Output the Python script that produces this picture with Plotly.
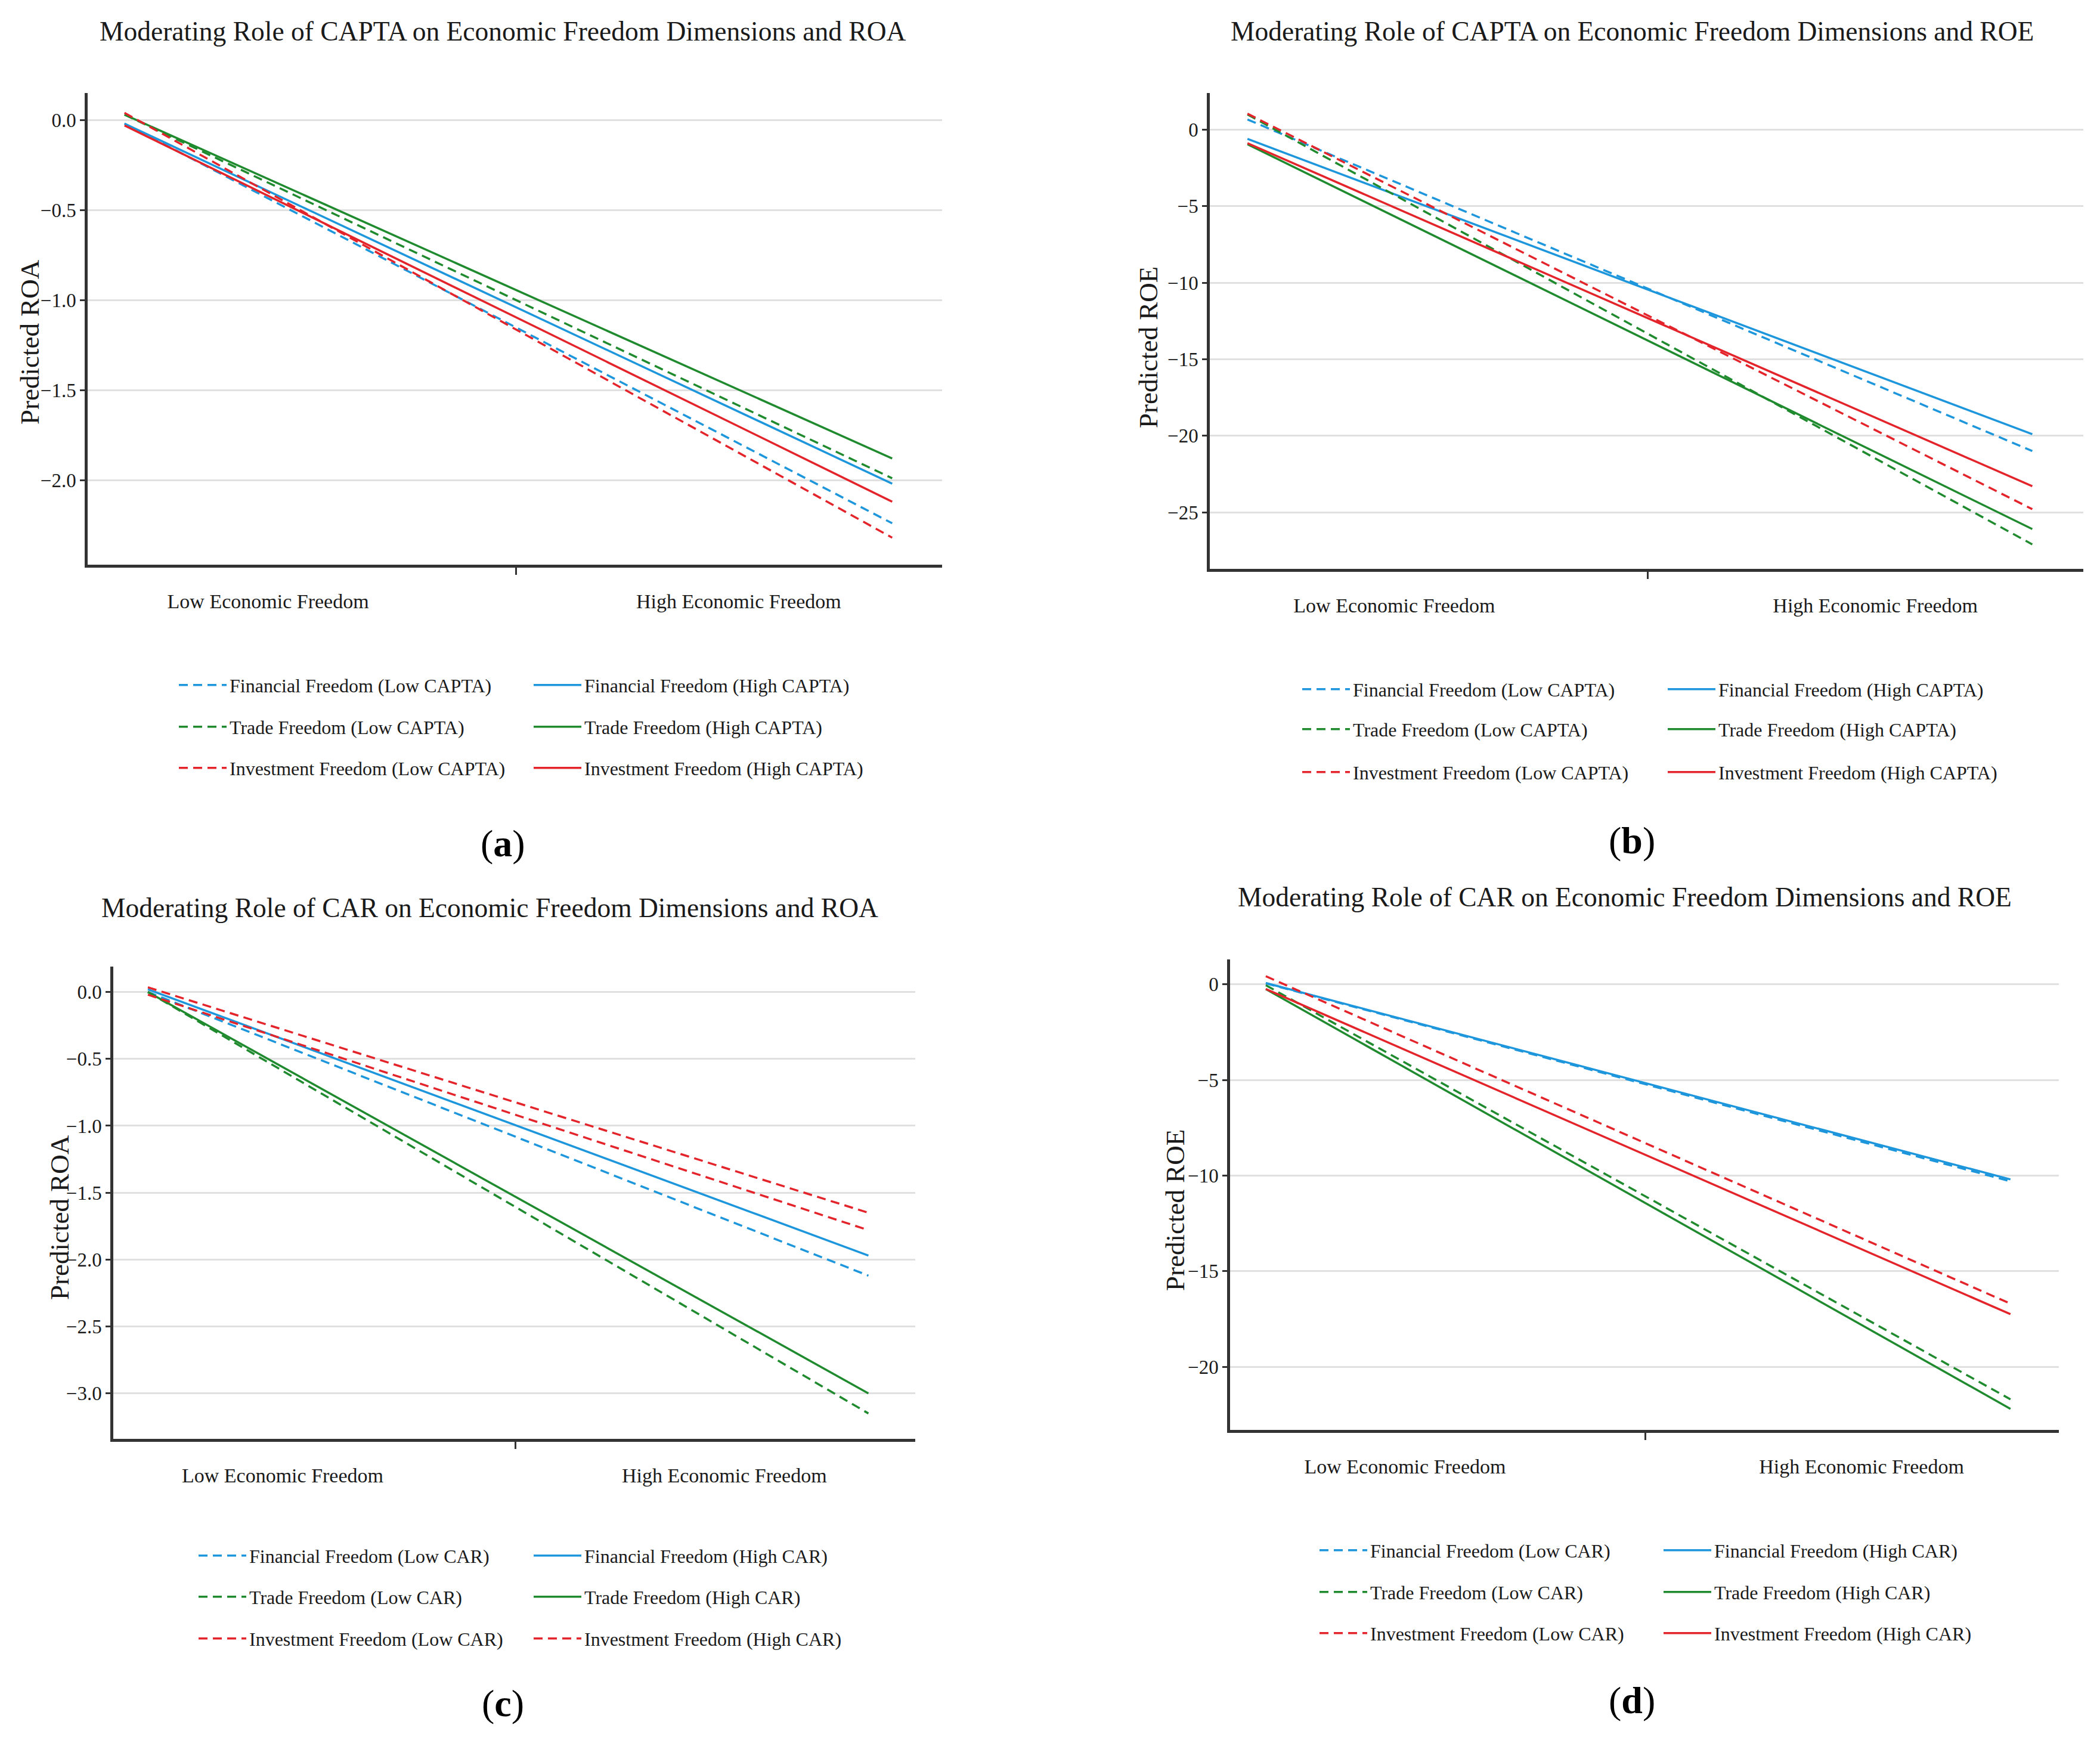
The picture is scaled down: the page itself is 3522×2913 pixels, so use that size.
import plotly.graph_objects as go

W, H = 3522, 2913
FONT = "Liberation Serif, Times New Roman, serif"
TXT = "#1a1a1a"
AXC = "#333333"
DASH = "15px,9px"

# ---------------- data ----------------
x_levels = [0, 1]  # low / high economic freedom
x_tick_labels = ["Low Economic Freedom", "High Economic Freedom"]
dimensions = ["Financial Freedom", "Trade Freedom", "Investment Freedom"]
colors = ["#1E96DC", "#1F8A2E", "#E3242B"]

# (a) CAPTA -> ROA
a_fin_low = [-0.02, -2.24]
a_fin_high = [-0.02, -2.02]
a_trade_low = [0.03, -1.99]
a_trade_high = [0.03, -1.88]
a_inv_low = [0.04, -2.32]
a_inv_high = [-0.03, -2.12]

# (b) CAPTA -> ROE
b_fin_low = [0.67, -21.0]
b_fin_high = [-0.6, -19.9]
b_trade_low = [1.0, -27.1]
b_trade_high = [-0.95, -26.1]
b_inv_low = [1.05, -24.8]
b_inv_high = [-0.88, -23.3]

# (c) CAR -> ROA
c_fin_low = [0.0, -2.12]
c_fin_high = [0.02, -1.97]
c_trade_low = [0.0, -3.15]
c_trade_high = [0.0, -3.0]
c_inv_low = [0.035, -1.65]
c_inv_high = [-0.02, -1.78]

# (d) CAR -> ROE
d_fin_low = [0.05, -10.3]
d_fin_high = [0.07, -10.2]
d_trade_low = [-0.05, -21.7]
d_trade_high = [-0.25, -22.2]
d_inv_low = [0.42, -16.7]
d_inv_high = [-0.25, -17.25]

a_ticks = [0.0, -0.5, -1.0, -1.5, -2.0]
b_ticks = [0, -5, -10, -15, -20, -25]
c_ticks = [0.0, -0.5, -1.0, -1.5, -2.0, -2.5, -3.0]
d_ticks = [0, -5, -10, -15, -20]

# ---------------- layout config ----------------
panels = [
    dict(tag="a", moder="CAPTA", outcome="ROA",
         series=[(a_fin_low, a_fin_high), (a_trade_low, a_trade_high), (a_inv_low, a_inv_high)],
         ticks=a_ticks, fmt=".1f", yrange=[-2.47, 0.15],
         dx=(139, 1572), dy=(148, 939), title=(835, 45), ytitle=(42, 566),
         leg_rows=[1141, 1211, 1280], leg_x=292, col_gap=595, label=(835, 1406)),
    dict(tag="b", moder="CAPTA", outcome="ROE",
         series=[(b_fin_low, b_fin_high), (b_trade_low, b_trade_high), (b_inv_low, b_inv_high)],
         ticks=b_ticks, fmt="d", yrange=[-28.7, 2.4],
         dx=(2021, 3486), dy=(148, 946), title=(2729, 45), ytitle=(1918, 575),
         leg_rows=[1148, 1215, 1287], leg_x=2176, col_gap=613, label=(2729, 1401)),
    dict(tag="c", moder="CAR", outcome="ROA",
         series=[(c_fin_low, c_fin_high), (c_trade_low, c_trade_high), (c_inv_low, c_inv_high)],
         ticks=c_ticks, fmt=".1f", yrange=[-3.34, 0.19],
         dx=(182, 1527), dy=(1613, 2405), title=(813, 1514), ytitle=(92, 2034),
         leg_rows=[2601, 2670, 2740], leg_x=325, col_gap=562, label=(835, 2848)),
    dict(tag="d", moder="CAR", outcome="ROE",
         series=[(d_fin_low, d_fin_high), (d_trade_low, d_trade_high), (d_inv_low, d_inv_high)],
         ticks=d_ticks, fmt="d", yrange=[-23.3, 1.3],
         dx=(2055, 3445), dy=(1601, 2390), title=(2717, 1496), ytitle=(1963, 2022),
         leg_rows=[2592, 2662, 2731], leg_x=2205, col_gap=577, label=(2729, 2843)),
]

# dash style of the investment-freedom "high" line (panel c draws it dashed)
inv_high_dash = {"a": "solid", "b": "solid", "c": DASH, "d": "solid"}

fig = go.Figure()
annotations = []
layout = dict(
    width=W, height=H, margin=dict(l=0, r=0, t=0, b=0),
    paper_bgcolor="white", plot_bgcolor="white",
    font=dict(family=FONT, color=TXT, size=30),
    showlegend=True,
)

ITEMW = 80
leg_idx = 0
for pi, p in enumerate(panels):
    n = "" if pi == 0 else str(pi + 1)
    xa, ya = "x" + n, "y" + n
    x0, x1 = p["dx"]
    y0, y1 = p["dy"]
    layout["xaxis" + n] = dict(
        domain=[x0 / W, x1 / W], anchor=ya, range=[-0.048, 1.065],
        showline=True, linecolor=AXC, linewidth=4.5, showgrid=False, zeroline=False,
        tickmode="array", tickvals=[0.187, 0.80], ticktext=x_tick_labels, ticks="",
        ticklabelstandoff=27,
        tickfont=dict(family=FONT, size=34, color=TXT),
        minor=dict(tickmode="array", tickvals=[0.51], ticks="outside", ticklen=12,
                   tickwidth=3, tickcolor=AXC, showgrid=False),
    )
    layout["yaxis" + n] = dict(
        domain=[1 - y1 / H, 1 - y0 / H], anchor=xa, range=p["yrange"],
        showline=True, linecolor=AXC, linewidth=4.5, zeroline=False,
        showgrid=True, gridcolor="#e0e0e0", gridwidth=2.5,
        tickmode="array", tickvals=p["ticks"],
        ticktext=[format(v, p["fmt"]).replace("-", "\u2212") for v in p["ticks"]],
        ticks="outside", ticklen=8, tickwidth=3, tickcolor=AXC,
        tickfont=dict(family=FONT, size=33, color=TXT),
    )
    annotations.append(dict(
        text=f"Moderating Role of {p['moder']} on Economic Freedom Dimensions and {p['outcome']}",
        x=p["title"][0] / W, y=1 - p["title"][1] / H, xref="paper", yref="paper",
        xanchor="center", yanchor="middle", showarrow=False,
        font=dict(family=FONT, size=45.5, color=TXT)))
    annotations.append(dict(
        text=f"Predicted {p['outcome']}", textangle=-90,
        x=p["ytitle"][0] / W, y=1 - p["ytitle"][1] / H, xref="paper", yref="paper",
        xanchor="center", yanchor="middle", showarrow=False,
        font=dict(family=FONT, size=45, color=TXT)))
    annotations.append(dict(
        text=f"(<b>{p['tag']}</b>)",
        x=p["label"][0] / W, y=1 - p["label"][1] / H, xref="paper", yref="paper",
        xanchor="center", yanchor="middle", showarrow=False,
        font=dict(family=FONT, size=64, color="black")))

    entry_w = p["col_gap"] - (ITEMW + 10) - 5
    for di, (dim, (low, high)) in enumerate(zip(dimensions, p["series"])):
        leg_idx += 1
        lname = "legend" if leg_idx == 1 else f"legend{leg_idx}"
        layout[lname] = dict(
            orientation="h", x=(p["leg_x"] - 5) / W, xanchor="left",
            y=1 - p["leg_rows"][di] / H, yanchor="middle",
            font=dict(family=FONT, size=32, color=TXT),
            itemwidth=ITEMW, entrywidth=entry_w, entrywidthmode="pixels",
            bgcolor="rgba(0,0,0,0)", borderwidth=0, traceorder="normal",
        )
        fig.add_trace(go.Scatter(
            x=x_levels, y=low, mode="lines", xaxis=xa, yaxis=ya,
            name=f"{dim} (Low {p['moder']})", legend=lname,
            line=dict(color=colors[di], width=3.5, dash=DASH)))
        hdash = inv_high_dash[p["tag"]] if di == 2 else "solid"
        fig.add_trace(go.Scatter(
            x=x_levels, y=high, mode="lines", xaxis=xa, yaxis=ya,
            name=f"{dim} (High {p['moder']})", legend=lname,
            line=dict(color=colors[di], width=3.5, dash=hdash)))

layout["annotations"] = annotations
fig.update_layout(**layout)
fig.write_html("out.html")
